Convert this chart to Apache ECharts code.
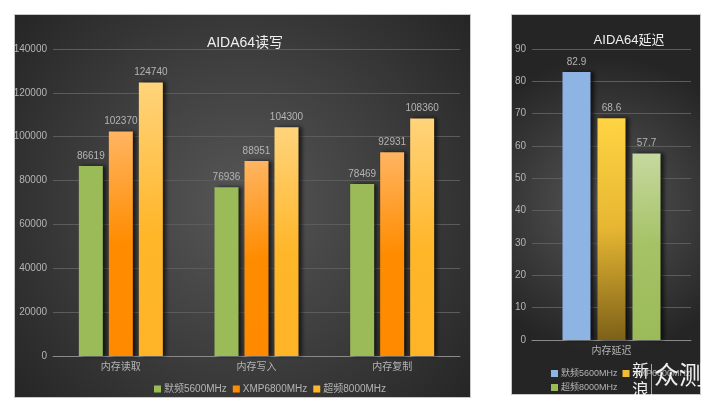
<!DOCTYPE html>
<html><head><meta charset="utf-8">
<script src="https://cdn.jsdelivr.net/npm/echarts@6/dist/echarts.min.js"></script>
<style>html,body{margin:0;padding:0;background:#fff}#c{width:720px;height:409px}</style>
</head><body><div id="c"></div>
<script>
var rwCategories = ['内存读取', '内存写入', '内存复制'];
var seriesNames = ['默频5600MHz', 'XMP6800MHz', '超频8000MHz'];
var rwDefault = [86619, 76936, 78469];
var rwXmp = [102370, 88951, 92931];
var rwOc = [124740, 104300, 108360];
var latCategories = ['内存延迟'];
var latDefault = [82.9];
var latXmp = [68.6];
var latOc = [57.7];
var rwTicks = {min: 0, max: 140000, interval: 20000};
var latTicks = {min: 0, max: 90, interval: 10};

var G = echarts.graphic;
function lg(a, x2, y2) { return new G.LinearGradient(0, 0, x2, y2, a); }
var font = '"Liberation Sans","Noto Sans CJK SC",sans-serif';
var txt = '#b4b4b4';
var shadow = {shadowColor: 'rgba(0,0,0,0.65)', shadowOffsetX: 3, shadowOffsetY: 0, shadowBlur: 4};

var cGreen = '#9BBB59';
var cOrange = lg([{offset: 0, color: '#FFB562'}, {offset: 0.5, color: '#FF8C00'}, {offset: 1, color: '#FF8A00'}], 0.6, 1);
var cYellow = lg([{offset: 0, color: '#FFD47C'}, {offset: 0.55, color: '#FFB629'}, {offset: 1, color: '#FFB427'}], 0.6, 1);
var cBlue = '#8DB4E2';
var cGold = lg([{offset: 0, color: '#FFD443'}, {offset: 0.5, color: '#E6B632'}, {offset: 1, color: '#7D6118'}], 0.3, 1);
var cLGreen = lg([{offset: 0, color: '#C6D9A0'}, {offset: 0.5, color: '#A5C265'}, {offset: 1, color: '#9BBB59'}], 0.3, 1);

function bg(x, y, w, h) {
  return {type: 'rect', z: -10, silent: true, shape: {x: x, y: y, width: w, height: h},
    style: {fill: new G.RadialGradient(0.5, 0.5, 0.78, [{offset: 0, color: '#575757'}, {offset: 1, color: '#252525'}]),
      stroke: '#c8c8c8', lineWidth: 1}};
}
function wm(t, x, y, size) {
  return {type: 'text', z: 100, silent: true, x: x, y: y, style: {text: t, fill: 'rgba(255,255,255,0.92)',
    font: size + 'px "Noto Sans CJK SC"', verticalAlign: 'top', align: 'left', shadowColor: 'rgba(0,0,0,0.45)', shadowBlur: 2}};
}
function lbl() { return {show: true, position: 'top', distance: 5, color: txt, fontSize: 10, fontFamily: font}; }
function bar(name, data, color, xi, bw) {
  return {type: 'bar', name: name, data: data, xAxisIndex: xi, yAxisIndex: xi, barWidth: bw, barGap: '25%',
    itemStyle: Object.assign({color: color}, shadow), label: lbl()};
}
function yAx(gi, t) {
  return {type: 'value', gridIndex: gi, min: t.min, max: t.max, interval: t.interval,
    axisLine: {show: false}, axisTick: {show: false},
    axisLabel: {color: txt, fontSize: 10, fontFamily: font, margin: 6, formatter: function (v) { return String(v); }},
    splitLine: {lineStyle: {color: '#5c5c5c', width: 1}}};
}
function xAx(gi, cats) {
  return {type: 'category', gridIndex: gi, data: cats,
    axisLine: {lineStyle: {color: '#8a8a8a'}}, axisTick: {show: false},
    axisLabel: {color: txt, fontSize: 10, fontFamily: font, margin: 6}};
}

var chart = echarts.init(document.getElementById('c'), null, {renderer: 'canvas'});
chart.setOption({
  backgroundColor: '#ffffff',
  animation: false,
  graphic: [
    bg(14.5, 14.5, 456, 383),
    bg(511.5, 14.5, 189, 380),
    wm('新', 632, 362, 17),
    wm('浪', 632, 381, 17),
    wm('众', 654, 362, 25),
    wm('测', 679, 362, 25),
    {type: 'rect', z: 100, silent: true, shape: {x: 651, y: 364, width: 1, height: 33}, style: {fill: 'rgba(255,255,255,0.6)'}}
  ],
  title: [
    {text: 'AIDA64读写', left: 240, top: 31, textAlign: 'center', textStyle: {color: '#f0f0f0', fontSize: 14, fontWeight: 'normal', fontFamily: font}},
    {text: 'AIDA64延迟', left: 624, top: 29, textAlign: 'center', textStyle: {color: '#f0f0f0', fontSize: 13, fontWeight: 'normal', fontFamily: font}}
  ],
  legend: [
    {left: 149, top: 379, itemWidth: 7, itemHeight: 7, itemGap: 6, icon: 'rect',
      textStyle: {color: txt, fontSize: 10, fontFamily: font, padding: [0, 0, 0, -2]},
      data: [{name: seriesNames[0], itemStyle: {color: cGreen}}, {name: seriesNames[1], itemStyle: {color: '#FF8C00'}}, {name: seriesNames[2], itemStyle: {color: '#FFB629'}}]},
    {left: 546, top: 364, width: 140, itemWidth: 7, itemHeight: 7, itemGap: 5, icon: 'rect',
      textStyle: {color: txt, fontSize: 9, fontFamily: font, padding: [0, 0, 0, -2]},
      data: [{name: seriesNames[0], itemStyle: {color: cBlue}}, {name: seriesNames[1], itemStyle: {color: '#F0BE35'}}, {name: seriesNames[2], itemStyle: {color: cGreen}}]}
  ],
  grid: [
    {left: 53, right: 260, top: 49, bottom: 53},
    {left: 532, right: 29, top: 49, bottom: 69}
  ],
  xAxis: [xAx(0, rwCategories), xAx(1, latCategories)],
  yAxis: [yAx(0, rwTicks), yAx(1, latTicks)],
  series: [
    bar(seriesNames[0], rwDefault, cGreen, 0, 24),
    bar(seriesNames[1], rwXmp, cOrange, 0, 24),
    bar(seriesNames[2], rwOc, cYellow, 0, 24),
    bar(seriesNames[0], latDefault, cBlue, 1, 28),
    bar(seriesNames[1], latXmp, cGold, 1, 28),
    bar(seriesNames[2], latOc, cLGreen, 1, 28)
  ]
});
</script></body></html>
